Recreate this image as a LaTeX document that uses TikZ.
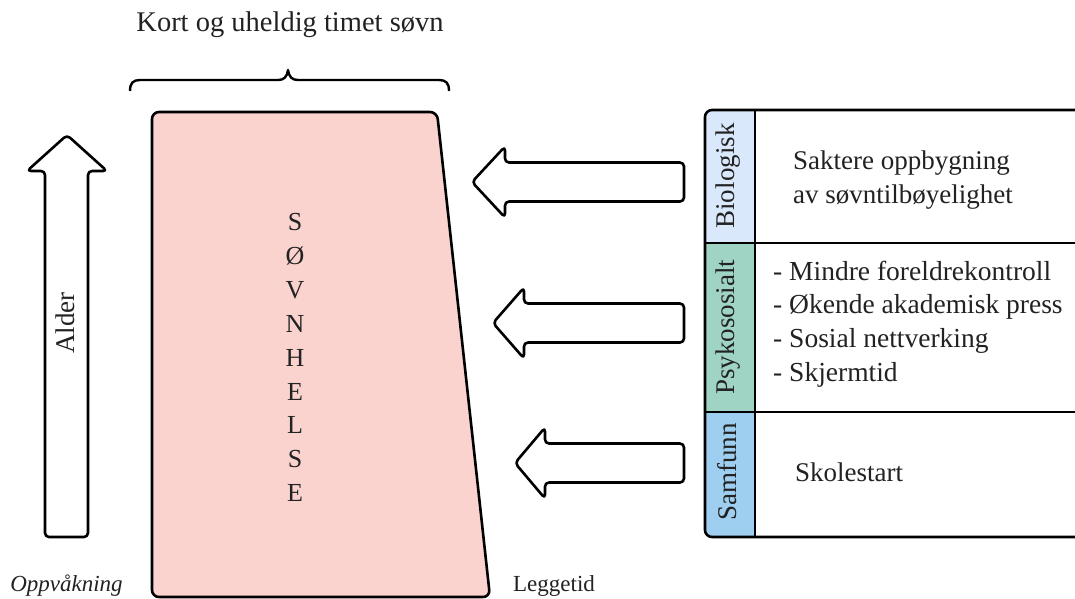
\documentclass[tikz,border=0pt]{standalone}
\usepackage{fontspec}
\setmainfont{Liberation Serif}
\definecolor{pinkfill}{HTML}{FAD3CF}
\definecolor{biofill}{HTML}{DAE8FC}
\definecolor{psyfill}{HTML}{9FD4C4}
\definecolor{samfill}{HTML}{9ECFF0}
\definecolor{ink}{HTML}{222222}
\begin{document}
\begin{tikzpicture}[x=1pt,y=-1pt,
  txt/.style={inner sep=0pt, text=ink, font=\fontsize{27}{32}\selectfont},
  smalltxt/.style={inner sep=0pt, text=ink, font=\fontsize{23}{28}\selectfont},
  outline/.style={draw=black, line width=2.6pt, line join=round},
  blockarrow/.style={outline, fill=white, rounded corners=4pt}]
\clip (0,0) rectangle (1075,598);
\fill[white] (0,0) rectangle (1075,598);

% title and brace
\node[txt, font=\fontsize{28.5}{33}\selectfont] (title) at (290,25) {Kort og uheldig timet søvn};
\draw[outline, line width=2.4pt] (130,91) .. controls (130,83) and (133,80) .. (140,80) -- (278,80)
  .. controls (284,80) and (287,77) .. (288,70) .. controls (289,77) and (292,80) .. (298,80)
  -- (439,80) .. controls (446,80) and (449,83) .. (449,91);

% sleep health box
\draw[outline, fill=pinkfill, rounded corners=7pt] (152,112) -- (437,112) -- (490,597) -- (152,597) -- cycle;
\node[txt, align=center, font=\fontsize{26}{33.9}\selectfont] (sovn) at (295,357.5)
  {S\\Ø\\V\\N\\H\\E\\L\\S\\E};

% age arrow
\draw[blockarrow] (67,135) -- (107,171) -- (88,171) -- (88,537) -- (45,537) -- (45,171) -- (27,171) -- cycle;
\node[txt, rotate=90] (alder) at (65,323) {Alder};
\node[smalltxt, anchor=base, font=\fontsize{23}{28}\selectfont\itshape] (opp) at (66.5,591) {Oppvåkning};
\node[smalltxt, anchor=base] (legg) at (554,591) {Leggetid};

% influence arrows
\draw[blockarrow] (472,182) -- (505,146.5) -- (505,162.5) -- (684,162.5) -- (684,201.5) -- (505,201.5) -- (505,217.5) -- cycle;
\draw[blockarrow] (493,323) -- (524,287.5) -- (524,303.5) -- (684,303.5) -- (684,342.5) -- (524,342.5) -- (524,358.5) -- cycle;
\draw[blockarrow] (515,463) -- (545,427.5) -- (545,443.5) -- (684,443.5) -- (684,482.5) -- (545,482.5) -- (545,498.5) -- cycle;

% table
\begin{scope}
  \clip[rounded corners=7pt] (705,110) rectangle (1095,537);
  \fill[biofill] (705,110) rectangle (755,243);
  \fill[psyfill] (705,243) rectangle (755,412);
  \fill[samfill] (705,412) rectangle (755,537);
\end{scope}
\draw[outline] (755,110) -- (755,537);
\draw[outline] (705,243) -- (1095,243);
\draw[outline] (705,412) -- (1095,412);
\draw[outline, rounded corners=7pt] (705,110) rectangle (1095,537);

\node[txt, rotate=90] (bio) at (728,176) {Biologisk};
\node[txt, rotate=90] (psy) at (728,327) {Psykososialt};
\node[txt, rotate=90] (sam) at (727,472) {Samfunn};

\node[txt, anchor=west, align=left, font=\fontsize{27}{34}\selectfont] (biotext) at (793,180)
  {Saktere oppbygning\\av søvntilbøyelighet};
\node[txt, anchor=west, align=left, font=\fontsize{27.5}{33.7}\selectfont] (psytext) at (773,324)
  {- Mindre foreldrekontroll\\- Økende akademisk press\\- Sosial nettverking\\- Skjermtid};
\node[txt, anchor=west] (samtext) at (795,472) {Skolestart};
\end{tikzpicture}
\end{document}
